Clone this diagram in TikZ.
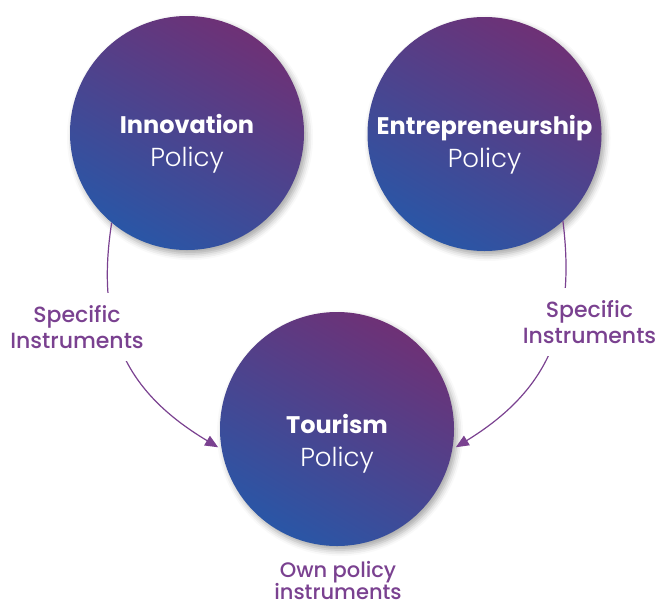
\documentclass[tikz,border=0pt]{standalone}
\usepackage{fontspec}
\setmainfont{Poppins}
\newfontfamily\medfont{Poppins Medium}
\newfontfamily\lightfont{Poppins Light}
\usetikzlibrary{arrows.meta,shadows.blur}
\definecolor{polpurple}{HTML}{6E3176}
\definecolor{polblue}{HTML}{2A56A6}
\definecolor{labpurple}{HTML}{7A4190}
\newcommand{\polline}{\lightfont\fontsize{26}{33}\selectfont Policy}
\tikzset{
	policy/.style={circle, minimum size=234pt, inner sep=0pt,
		shade, top color=polpurple, bottom color=polblue, shading angle=-30,
		blur shadow={shadow xshift=3pt, shadow yshift=-4pt, shadow blur radius=6pt, shadow opacity=35}},
	policytext/.style={text=white, align=center, font=\fontsize{24}{33}\selectfont},
	instr/.style={text=labpurple, align=center, fill=white, inner xsep=4pt, inner ysep=12pt,
		font=\medfont\fontsize{22}{26}\selectfont},
	flow/.style={labpurple, line width=1.2pt, -{Triangle[length=13pt,width=11pt]}, shorten >=4pt}
}

\begin{document}
\begin{tikzpicture}[x=1pt, y=-1pt]
		%%%%% START %%%%%
		\useasboundingbox (0, 0) rectangle (658, 608);
		
		\node[policy] (inno) at (187, 133) {};
		\node[policy] (entre) at (484.5, 134) {};
		\node[policy] (tour) at (337, 429) {};
		
		\node[policytext] (innotext) at (187, 144) {\textbf{Innovation}\\\polline};
		\node[policytext] (entretext) at (484.5, 144.5) {\textbf{Entrepreneurship}\\\polline};
		\node[policytext] (tourtext) at (337, 443.5) {\textbf{Tourism}\\\polline};
		
		\draw[flow] (inno.230) .. controls (95, 330) and (126, 392) .. (tour.190);
		\draw[flow] (entre.312) .. controls (576.5, 330) and (545.5, 392) .. (tour.350);
		
		\node[instr] (leftinstr) at (77, 327) {Specific\\Instruments};
		\node[instr] (rightinstr) at (589.5, 322) {Specific\\Instruments};
		\node[instr, fill=none, inner ysep=0pt, font=\medfont\fontsize{21}{22}\selectfont] (owninstr) at (338, 580) {Own policy\\instruments};
		
		%%%%% END %%%%%
\end{tikzpicture}
\end{document}
